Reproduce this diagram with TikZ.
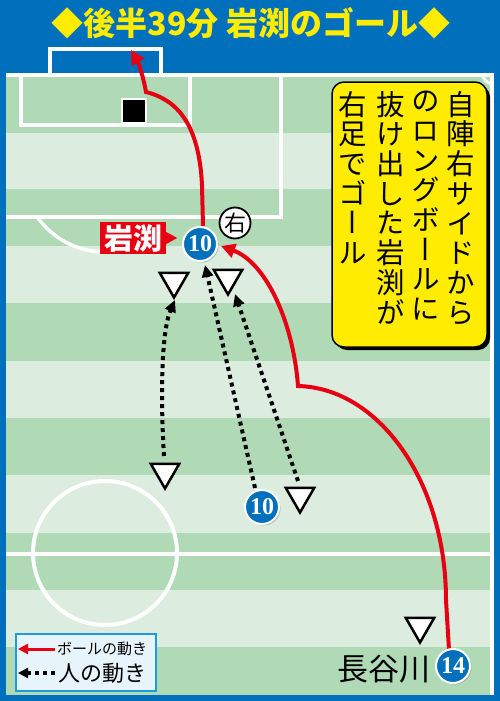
\documentclass[tikz,border=0pt]{standalone}
\usepackage{fontspec}
\usetikzlibrary{arrows.meta,shapes.geometric,shadows}
\newfontfamily\jp{Noto Sans CJK JP}
\newfontfamily\jpv[RawFeature=+vert]{Noto Sans CJK JP}
\newfontfamily\numf{Liberation Serif}
\definecolor{frameblue}{RGB}{0,112,188}
\definecolor{ttlyellow}{RGB}{255,236,0}
\definecolor{darkg}{RGB}{176,217,181}
\definecolor{lightg}{RGB}{220,236,222}
\definecolor{ballred}{RGB}{230,0,18}
\definecolor{legfill}{RGB}{232,244,252}
\definecolor{legline}{RGB}{30,155,224}
\tikzset{
  pline/.style={draw=white,line width=4},
  ball/.style={draw=ballred,line width=4,-{Triangle[length=14pt,width=14pt]}},
  run/.style={draw=black,line width=4,dash pattern=on 4pt off 4pt,-{Triangle[length=12pt,width=11pt]}},
  player/.style={circle,fill=frameblue,draw=white,line width=2,minimum size=34,inner sep=0,text=white,
    font=\numf\bfseries\fontsize{24}{24}\selectfont,
    drop shadow={shadow xshift=1.5pt,shadow yshift=-1.5pt,fill=black!45}},
  opp/.style={regular polygon,regular polygon sides=3,shape border rotate=180,minimum size=33,
    draw=black,line width=2.5,fill=white,inner sep=0},
  coltext/.style={anchor=north,inner sep=0,align=center,font=\jpv\fontsize{28.5}{29.7}\selectfont},
}
\begin{document}
\begin{tikzpicture}[x=1pt,y=-1pt]
\useasboundingbox (0,0) rectangle (500,701);
\fill[frameblue] (0,0) rectangle (500,701);
% pitch stripes
\fill[lightg] (6,74) rectangle (494,695);
\foreach \a/\b in {74/133,189/246,303/361,418/475,533/590,647/695}
  \fill[darkg] (6,\a) rectangle (494,\b);
% pitch lines
\draw[pline] (6,74.5) -- (492,74.5) -- (492,695);
\draw[pline,line width=3] (492,83.5) arc[start angle=90,end angle=180,radius=9];
\draw[pline] (49.5,74) -- (49.5,49.5) -- (160.5,49.5) -- (160.5,74);
\draw[pline] (20.5,74) -- (20.5,125) -- (190,125) -- (190,74);
\draw[pline] (6,217) -- (281,217) -- (281,74);
\draw[pline,line width=3.5] (38,218) arc[start angle=143.8,end angle=45,radius=83];
\draw[pline] (6,554) -- (492,554);
\draw[pline] (105,553) circle[radius=72];
\filldraw[fill=black,draw=white,line width=2.5] (122,99) rectangle (146,123);
% title
\node[font=\jp\bfseries\fontsize{32}{32}\selectfont,text=ttlyellow,inner sep=0] (title) at (251,23) {◆後半39分 岩渕のゴール◆};
% explanation box
\fill[black,rounded corners=12] (335,85) rectangle (490,350);
\filldraw[fill=ttlyellow,draw=black,line width=1.5,rounded corners=12] (332,82) rectangle (487,347);
\node[coltext] (c1) at (460.5,91) {自\\陣\\右\\サ\\イ\\ド\\か\\ら};
\node[coltext] (c2) at (426,91) {の\\ロ\\ン\\グ\\ボ\\ー\\ル\\に};
\node[coltext] (c3) at (391,91) {抜\\け\\出\\し\\た\\岩\\渕\\が};
\node[coltext] (c4) at (353,91) {右\\足\\で\\ゴ\\ー\\ル};
% path coordinates
\coordinate (b1s) at (203,226);
\coordinate (b1a) at (202,185);
\coordinate (b1k) at (146,92);
\coordinate (goal) at (131,50);
\coordinate (b2s) at (449,650);
\coordinate (b2a) at (446,600);
\coordinate (b2k) at (298,386);
\coordinate (b2e) at (221,246);
\coordinate (r1s) at (164,456);
\coordinate (r1e) at (175,300);
\coordinate (r2s) at (255,488);
\coordinate (r2e) at (205,265);
\coordinate (r3s) at (298,481);
\coordinate (r3e) at (235,294);
% ball movement
\draw[ball] (b1s) -- (b1a) .. controls (199,125) and (178,100) .. (b1k)
  .. controls (143,75) and (138,62) .. (goal);
\draw[ball] (b2s) -- (b2a) .. controls (446,482) and (379,388) .. (b2k)
  .. controls (293,320) and (265,262) .. (b2e);
% player movement
\draw[run] (r1s) .. controls (160,390) and (162,330) .. (r1e);
\draw[run] (r2s) -- (r2e);
\draw[run] (r3s) -- (r3e);
% opponents
\node[opp] (t1) at (174,281) {};
\node[opp] (t2) at (228,278) {};
\node[opp] (t3) at (165,472) {};
\node[opp] (t4) at (300,496) {};
\node[opp] (t5) at (420,626) {};
% players
\node[player] (p10a) at (200,244) {10};
\node[player] (p10b) at (262,507) {10};
\node[player] (p14) at (453,666) {14};
\node[circle,draw=black,fill=white,line width=1.8,minimum size=31,inner sep=0,
  font=\jp\fontsize{22}{22}\selectfont] (foot) at (235,223) {右};
% name labels
\node[fill=ballred,text=white,font=\jp\bfseries\fontsize{29}{29}\selectfont,
  minimum width=66,minimum height=32,inner sep=0] (lab) at (133,238) {岩渕};
\fill[ballred] (lab.east) ++(0,-6) -- ++(11,6) -- ++(-11,6) -- cycle;
\node[anchor=east,inner sep=0,font=\jp\fontsize{31}{31}\selectfont] (name14) at (431,669) {長谷川};
% legend
\node[draw=legline,fill=legfill,line width=2,minimum width=140,minimum height=57,
  anchor=north west,inner sep=0] (leg) at (15,633) {};
\coordinate (l1a) at (55,649);
\coordinate (l1b) at (18,649);
\coordinate (l2a) at (55,673);
\coordinate (l2b) at (18,673);
\draw[ball,line width=3,-{Triangle[length=10pt,width=10pt]}] (l1a) -- (l1b);
\draw[run,line width=3.5,-{Triangle[length=10pt,width=10pt]}] (l2a) -- (l2b);
\node[anchor=west,inner sep=0,font=\jp\fontsize{15}{15}\selectfont] (lt1) at (57,649) {ボールの動き};
\node[anchor=west,inner sep=0,font=\jp\fontsize{22}{22}\selectfont] (lt2) at (58,673) {人の動き};
\end{tikzpicture}
\end{document}
